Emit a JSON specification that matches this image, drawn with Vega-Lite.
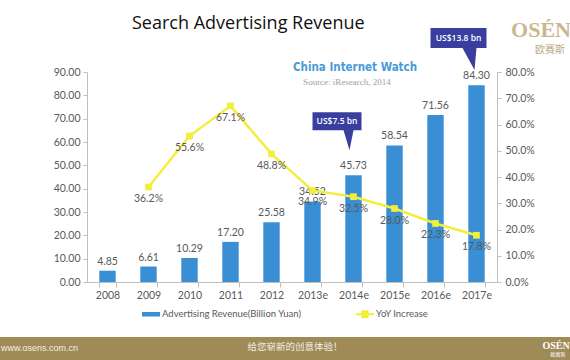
{
  "$schema": "https://vega.github.io/schema/vega-lite/v6.json",
  "width": 410,
  "height": 210,
  "autosize": {"type": "none"},
  "padding": {"left": 87, "top": 72, "right": 73, "bottom": 78},
  "background": "white",
  "title": {"text": "Search Advertising Revenue", "anchor": "start", "frame": "group", "dx": 45, "offset": -14, "fontSize": 18, "font": "Open Sans", "fontWeight": 500, "color": "#111111"},
  "config": {
    "view": {"stroke": null},
    "axis": {"domainColor": "#bfbfbf", "tickColor": "#bfbfbf", "labelColor": "#595959", "labelFont": "Lato", "labelFontSize": 10.5, "grid": false, "tickSize": 4, "domainWidth": 1}
  },
  "datasets": {
    "revenue": [
      {"year": "2008", "rev": 4.85, "yoy": null, "note": null},
      {"year": "2009", "rev": 6.61, "yoy": 0.362, "note": null},
      {"year": "2010", "rev": 10.29, "yoy": 0.556, "note": null},
      {"year": "2011", "rev": 17.20, "yoy": 0.671, "note": null},
      {"year": "2012", "rev": 25.58, "yoy": 0.488, "note": null},
      {"year": "2013e", "rev": 34.52, "yoy": 0.349, "note": null},
      {"year": "2014e", "rev": 45.73, "yoy": 0.325, "note": "US$7.5 bn"},
      {"year": "2015e", "rev": 58.54, "yoy": 0.280, "note": null},
      {"year": "2016e", "rev": 71.56, "yoy": 0.223, "note": null},
      {"year": "2017e", "rev": 84.30, "yoy": 0.178, "note": "US$13.8 bn"}
    ]
  },
  "layer": [
    {
      "data": {"name": "revenue"},
      "layer": [
        {
          "encoding": {
            "x": {"field": "year", "type": "nominal", "sort": null, "scale": {"paddingInner": 0.6, "paddingOuter": 0.3}, "axis": {"title": null, "labelAngle": 0, "tickBand": "extent", "tickSize": 5, "labelPadding": 3}},
            "y": {"field": "rev", "type": "quantitative", "scale": {"domain": [0, 90], "nice": false}, "axis": {"title": null, "orient": "left", "values": [0, 10, 20, 30, 40, 50, 60, 70, 80, 90], "format": ".2f", "labelPadding": 3}}
          },
          "layer": [
            {
              "mark": {"type": "bar", "opacity": 1},
              "encoding": {
                "color": {
                  "datum": "Advertising Revenue(Billion Yuan)",
                  "scale": {"domain": ["Advertising Revenue(Billion Yuan)", "YoY Increase"], "range": ["#3a8fd4", "#f3ee3c"]},
                  "legend": {
                    "title": null, "orient": "none", "direction": "horizontal", "legendX": 55, "legendY": 233,
                    "padding": 0, "symbolSize": 324, "labelOffset": 2, "columnPadding": 54,
                    "labelFont": "Lato", "labelFontSize": 9.5, "labelColor": "#595959",
                    "symbolStrokeWidth": 0,
                    "symbolType": {"expr": "datum.value === 'YoY Increase' ? 'M-1,-0.12H-0.4V-0.45H0.4V-0.12H1V0.12H0.4V0.45H-0.4V0.12H-1Z' : 'M-1,-0.25H1V0.25H-1Z'"}
                  }
                }
              }
            },
            {
              "mark": {"type": "text", "baseline": "bottom", "dy": -4, "fontSize": 10.5, "font": "Lato", "color": "#595959"},
              "encoding": {"text": {"field": "rev", "format": ".2f"}}
            },
            {
              "transform": [{"filter": "datum.year === '2014e'"}],
              "layer": [
                {"mark": {"type": "point", "filled": true, "opacity": 1, "size": 400, "color": "#3a3f9f", "shape": "M-4.1,-6.3H0.8V-4.5H0L-0.4,-2.5L-1.0,-4.5H-4.1Z"}},
                {"mark": {"type": "text", "align": "center", "baseline": "middle", "dx": -16.5, "dy": -54, "fontSize": 8.5, "font": "Open Sans", "fontWeight": 600, "color": "white"}, "encoding": {"text": {"field": "note"}}}
              ]
            },
            {
              "transform": [{"filter": "datum.year === '2017e'"}],
              "layer": [
                {"mark": {"type": "point", "filled": true, "opacity": 1, "size": 400, "color": "#3a3f9f", "shape": "M-4.6,-5.73H1.0V-3.73H0L-0.2,-1.53L-1.4,-3.73H-4.6Z"}},
                {"mark": {"type": "text", "align": "center", "baseline": "middle", "dx": -18, "dy": -47.3, "fontSize": 8.5, "font": "Open Sans", "fontWeight": 600, "color": "white"}, "encoding": {"text": {"field": "note"}}}
              ]
            }
          ]
        },
        {
          "transform": [{"filter": "datum.yoy != null"}],
          "encoding": {
            "x": {"field": "year", "type": "nominal", "sort": null},
            "y": {"field": "yoy", "type": "quantitative", "scale": {"domain": [0, 0.8], "nice": false}, "axis": {"title": null, "orient": "right", "values": [0, 0.1, 0.2, 0.3, 0.4, 0.5, 0.6, 0.7, 0.8], "format": ".1%", "labelPadding": 4}}
          },
          "layer": [
            {"mark": {"type": "line", "strokeWidth": 2.5}, "encoding": {"color": {"datum": "YoY Increase"}}},
            {"mark": {"type": "point", "shape": "square", "filled": true, "size": 45, "opacity": 1}, "encoding": {"color": {"datum": "YoY Increase"}}},
            {
              "mark": {"type": "text", "baseline": "top", "dy": 7, "fontSize": 10.5, "font": "Lato", "color": "#595959"},
              "encoding": {"text": {"field": "yoy", "format": ".1%"}}
            }
          ]
        }
      ],
      "resolve": {"scale": {"y": "independent"}}
    },
    {
      "data": {"values": [{}]},
      "encoding": {
        "x": {"datum": 0, "type": "quantitative", "scale": {"domain": [0, 1], "nice": false, "zero": false}, "axis": null},
        "y": {"datum": 0, "type": "quantitative", "scale": {"domain": [0, 1], "nice": false, "zero": false}, "axis": null}
      },
      "layer": [
        {
          "mark": {"type": "rect", "color": "#9e8b58"},
          "encoding": {
            "x": {"datum": -0.25, "type": "quantitative"},
            "x2": {"datum": 1.25},
            "y": {"datum": -0.2619, "type": "quantitative"},
            "y2": {"datum": -0.42}
          }
        },
        {
          "mark": {"type": "text", "text": "www.osens.com.cn", "align": "left", "baseline": "middle", "fontSize": 9, "font": "Liberation Sans", "color": "#f4efe2"},
          "encoding": {"x": {"datum": -0.2098, "type": "quantitative"}, "y": {"datum": -0.3143, "type": "quantitative"}}
        },
        {
          "mark": {"type": "text", "text": "给您崭新的创意体验！", "align": "center", "baseline": "middle", "fontSize": 9.5, "font": "Noto Sans CJK SC", "color": "#f4efe2"},
          "encoding": {"x": {"datum": 0.5073, "type": "quantitative"}, "y": {"datum": -0.3095, "type": "quantitative"}}
        },
        {
          "mark": {"type": "text", "text": "OSÉN", "align": "center", "baseline": "middle", "fontSize": 10, "font": "Liberation Serif", "fontWeight": "bold", "color": "white"},
          "encoding": {"x": {"datum": 1.1439, "type": "quantitative"}, "y": {"datum": -0.3048, "type": "quantitative"}}
        },
        {
          "mark": {"type": "text", "text": "欧赛斯", "align": "center", "baseline": "middle", "fontSize": 5, "font": "Noto Sans CJK SC", "color": "white"},
          "encoding": {"x": {"datum": 1.1488, "type": "quantitative"}, "y": {"datum": -0.3429, "type": "quantitative"}}
        },
        {
          "mark": {"type": "text", "text": "OSÉN", "align": "center", "baseline": "alphabetic", "fontSize": 22, "font": "Liberation Serif", "fontWeight": "bold", "color": "#c9b88f"},
          "encoding": {"x": {"datum": 1.1073, "type": "quantitative"}, "y": {"datum": 1.1667, "type": "quantitative"}}
        },
        {
          "mark": {"type": "text", "text": "欧赛斯", "align": "center", "baseline": "alphabetic", "fontSize": 10, "font": "Noto Sans CJK SC", "color": "#bcaa80"},
          "encoding": {"x": {"datum": 1.1293, "type": "quantitative"}, "y": {"datum": 1.0905, "type": "quantitative"}}
        },
        {
          "mark": {"type": "text", "text": "China Internet Watch", "align": "center", "baseline": "middle", "fontSize": 11.5, "font": "'Liberation Sans Narrow', 'DejaVu Sans Condensed', 'Liberation Sans', sans-serif", "fontWeight": "bold", "color": "#4a9bd8"},
          "encoding": {"x": {"datum": 0.6537, "type": "quantitative"}, "y": {"datum": 1.019, "type": "quantitative"}}
        },
        {
          "mark": {"type": "text", "text": "Source: iResearch, 2014", "align": "center", "baseline": "middle", "fontSize": 9, "font": "Liberation Serif", "color": "#a0a0a0"},
          "encoding": {"x": {"datum": 0.6341, "type": "quantitative"}, "y": {"datum": 0.9524, "type": "quantitative"}}
        }
      ]
    }
  ],
  "resolve": {"scale": {"x": "independent", "y": "independent"}}
}
